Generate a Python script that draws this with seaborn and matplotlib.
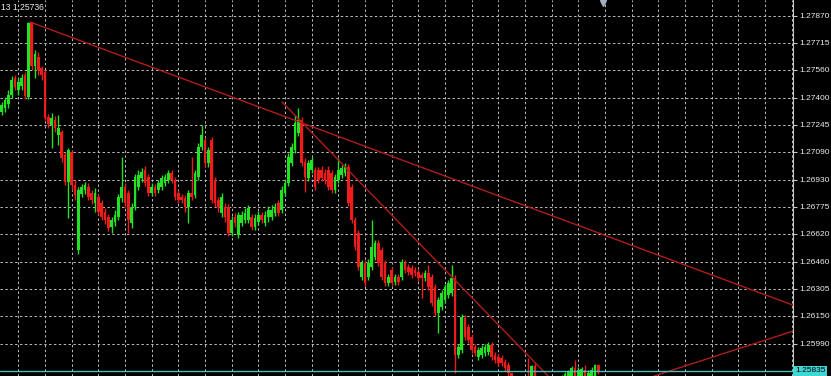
import numpy as np
import pandas as pd
import matplotlib
matplotlib.use("Agg")
import matplotlib.pyplot as plt
import matplotlib.transforms as mtransforms
import seaborn as sns

# ---------------- data ----------------
open_ = [1.27318, 1.27341, 1.27364, 1.27416, 1.27513, 1.27444, 1.27467, 1.27530, 1.27404, 1.27828,
         1.27582, 1.27633, 1.27570, 1.27547, 1.27290, 1.27244, 1.27272, 1.27186, 1.27204, 1.27072,
         1.26917, 1.27089, 1.26900, 1.26528, 1.26848, 1.26871, 1.26888, 1.26854, 1.26797, 1.26831,
         1.26797, 1.26745, 1.26717, 1.26659, 1.26688, 1.26717, 1.26825, 1.26888, 1.26854, 1.26682,
         1.26774, 1.26888, 1.26940, 1.26986, 1.26946, 1.26854, 1.26888, 1.26871, 1.26888, 1.26911,
         1.26929, 1.26969, 1.26929, 1.26854, 1.26831, 1.26825, 1.26774, 1.26854, 1.26843, 1.26946,
         1.27118, 1.27158, 1.27026, 1.27158, 1.26929, 1.26814, 1.26740, 1.26774, 1.26774, 1.26625,
         1.26717, 1.26613, 1.26682, 1.26699, 1.26699, 1.26717, 1.26659, 1.26688, 1.26728, 1.26682,
         1.26717, 1.26717, 1.26740, 1.26797, 1.26757, 1.26854, 1.26911, 1.27026, 1.27100, 1.27198,
         1.27272, 1.27032, 1.26940, 1.26986, 1.26986, 1.26986, 1.26986, 1.26969, 1.26986, 1.26969,
         1.26871, 1.26929, 1.26957, 1.26969, 1.27003, 1.26888, 1.26699, 1.26625, 1.26373, 1.26453,
         1.26373, 1.26430, 1.26487, 1.26568, 1.26528, 1.26453, 1.26338, 1.26413, 1.26344, 1.26373,
         1.26373, 1.26453, 1.26430, 1.26424, 1.26413, 1.26401, 1.26384, 1.26367, 1.26396, 1.26373,
         1.26315, 1.26167, 1.26201, 1.26241, 1.26270, 1.26281, 1.26367, 1.25926, 1.25955, 1.26138,
         1.26086, 1.26029, 1.25972, 1.25914, 1.25926, 1.25937, 1.25943, 1.25983, 1.25926, 1.25914,
         1.25909, 1.25886, 1.25869, 1.25823, 1.25783, 1.25737, 1.25771, 1.25725, 1.25783, 1.25714,
         1.25863, 1.25725, 1.25691, 1.25725, 1.25754, 1.25714, 1.25760, 1.25783, 1.25748, 1.25794,
         1.25806, 1.25794, 1.25851, 1.25794, 1.25806, 1.25840, 1.25794, 1.25806, 1.25806, 1.25869]

high = [1.27376, 1.27404, 1.27444, 1.27525, 1.27530, 1.27513, 1.27536, 1.27547, 1.27834, 1.27834,
        1.27674, 1.27662, 1.27582, 1.27559, 1.27307, 1.27313, 1.27295, 1.27301, 1.27215, 1.27089,
        1.27112, 1.27100, 1.26929, 1.26888, 1.26906, 1.26917, 1.26911, 1.26871, 1.26883, 1.26848,
        1.26814, 1.26768, 1.26734, 1.26717, 1.26757, 1.26848, 1.27060, 1.26911, 1.26871, 1.26797,
        1.26963, 1.26986, 1.26997, 1.27009, 1.26963, 1.26911, 1.26906, 1.26929, 1.26957, 1.26963,
        1.26986, 1.26986, 1.26946, 1.26871, 1.26848, 1.26843, 1.26871, 1.27060, 1.26986, 1.27141,
        1.27244, 1.27175, 1.27118, 1.27175, 1.26946, 1.26831, 1.26854, 1.26797, 1.26791, 1.26722,
        1.26740, 1.26745, 1.26751, 1.26768, 1.26785, 1.26734, 1.26734, 1.26751, 1.26745, 1.26751,
        1.26780, 1.26785, 1.26797, 1.26814, 1.26894, 1.26929, 1.27083, 1.27141, 1.27301, 1.27341,
        1.27290, 1.27055, 1.27043, 1.27060, 1.27003, 1.27003, 1.27009, 1.26992, 1.27009, 1.26986,
        1.26963, 1.27055, 1.27015, 1.27026, 1.27020, 1.26906, 1.26717, 1.26642, 1.26470, 1.26470,
        1.26476, 1.26699, 1.26585, 1.26585, 1.26545, 1.26470, 1.26390, 1.26430, 1.26390, 1.26390,
        1.26476, 1.26470, 1.26447, 1.26442, 1.26430, 1.26419, 1.26401, 1.26413, 1.26442, 1.26390,
        1.26333, 1.26258, 1.26298, 1.26333, 1.26356, 1.26442, 1.26384, 1.25989, 1.26161, 1.26155,
        1.26103, 1.26046, 1.25989, 1.25972, 1.25983, 1.25989, 1.26000, 1.26000, 1.25943, 1.25932,
        1.25926, 1.25903, 1.25886, 1.25817, 1.25794, 1.25788, 1.25783, 1.25783, 1.25909, 1.25869,
        1.25886, 1.25748, 1.25742, 1.25777, 1.25771, 1.25783, 1.25800, 1.25806, 1.25811, 1.25828,
        1.25840, 1.25863, 1.25897, 1.25857, 1.25857, 1.25869, 1.25840, 1.25857, 1.25874, 1.25874]

low = [1.27301, 1.27318, 1.27341, 1.27398, 1.27444, 1.27416, 1.27444, 1.27393, 1.27393, 1.27559,
       1.27513, 1.27530, 1.27502, 1.27272, 1.27227, 1.27112, 1.27204, 1.27129, 1.27032, 1.26900,
       1.26711, 1.26871, 1.26814, 1.26505, 1.26831, 1.26848, 1.26814, 1.26791, 1.26745, 1.26728,
       1.26699, 1.26676, 1.26636, 1.26625, 1.26665, 1.26699, 1.26803, 1.26774, 1.26625, 1.26654,
       1.26757, 1.26871, 1.26917, 1.26894, 1.26837, 1.26837, 1.26837, 1.26854, 1.26871, 1.26894,
       1.26911, 1.26911, 1.26814, 1.26797, 1.26797, 1.26745, 1.26682, 1.26814, 1.26825, 1.26929,
       1.27100, 1.27003, 1.27003, 1.26797, 1.26774, 1.26745, 1.26717, 1.26688, 1.26608, 1.26608,
       1.26659, 1.26596, 1.26665, 1.26682, 1.26682, 1.26642, 1.26642, 1.26671, 1.26682, 1.26665,
       1.26688, 1.26699, 1.26722, 1.26722, 1.26740, 1.26837, 1.26894, 1.27009, 1.27083, 1.27181,
       1.27009, 1.26860, 1.26923, 1.26969, 1.26871, 1.26911, 1.26923, 1.26906, 1.26871, 1.26854,
       1.26854, 1.26911, 1.26940, 1.26952, 1.26780, 1.26682, 1.26528, 1.26413, 1.26356, 1.26321,
       1.26356, 1.26413, 1.26470, 1.26436, 1.26356, 1.26321, 1.26321, 1.26321, 1.26327, 1.26327,
       1.26356, 1.26396, 1.26384, 1.26367, 1.26379, 1.26350, 1.26253, 1.26350, 1.26298, 1.26207,
       1.26149, 1.26052, 1.26184, 1.26224, 1.26253, 1.26264, 1.25823, 1.25909, 1.25937, 1.26012,
       1.25995, 1.25937, 1.25920, 1.25897, 1.25909, 1.25920, 1.25926, 1.25897, 1.25880, 1.25863,
       1.25863, 1.25834, 1.25806, 1.25760, 1.25714, 1.25714, 1.25697, 1.25702, 1.25697, 1.25691,
       1.25702, 1.25668, 1.25668, 1.25702, 1.25691, 1.25697, 1.25737, 1.25725, 1.25725, 1.25771,
       1.25783, 1.25771, 1.25771, 1.25777, 1.25783, 1.25771, 1.25771, 1.25783, 1.25783, 1.25817]

close = [1.27358, 1.27387, 1.27416, 1.27502, 1.27461, 1.27490, 1.27513, 1.27410, 1.27828, 1.27582,
         1.27651, 1.27559, 1.27530, 1.27284, 1.27249, 1.27284, 1.27227, 1.27227, 1.27055, 1.26917,
         1.27100, 1.26900, 1.26843, 1.26871, 1.26888, 1.26900, 1.26831, 1.26814, 1.26854, 1.26745,
         1.26717, 1.26699, 1.26654, 1.26699, 1.26728, 1.26831, 1.26888, 1.26797, 1.26699, 1.26774,
         1.26946, 1.26957, 1.26974, 1.26911, 1.26854, 1.26888, 1.26854, 1.26911, 1.26940, 1.26946,
         1.26969, 1.26929, 1.26831, 1.26814, 1.26814, 1.26774, 1.26854, 1.26831, 1.26969, 1.27118,
         1.27186, 1.27026, 1.27100, 1.26814, 1.26797, 1.26774, 1.26831, 1.26717, 1.26625, 1.26699,
         1.26682, 1.26728, 1.26728, 1.26740, 1.26768, 1.26659, 1.26711, 1.26728, 1.26699, 1.26728,
         1.26757, 1.26757, 1.26774, 1.26740, 1.26871, 1.26911, 1.27060, 1.27118, 1.27255, 1.27272,
         1.27026, 1.26946, 1.27026, 1.27043, 1.26888, 1.26929, 1.26940, 1.26929, 1.26888, 1.26871,
         1.26946, 1.26986, 1.26997, 1.27003, 1.26797, 1.26699, 1.26545, 1.26430, 1.26453, 1.26338,
         1.26453, 1.26545, 1.26568, 1.26453, 1.26373, 1.26338, 1.26373, 1.26338, 1.26373, 1.26344,
         1.26459, 1.26413, 1.26401, 1.26384, 1.26396, 1.26367, 1.26367, 1.26396, 1.26315, 1.26224,
         1.26167, 1.26241, 1.26281, 1.26315, 1.26338, 1.26367, 1.25926, 1.25972, 1.26144, 1.26029,
         1.26012, 1.25955, 1.25937, 1.25955, 1.25966, 1.25972, 1.25983, 1.25914, 1.25897, 1.25880,
         1.25880, 1.25851, 1.25823, 1.25783, 1.25737, 1.25771, 1.25725, 1.25760, 1.25714, 1.25863,
         1.25725, 1.25691, 1.25725, 1.25754, 1.25714, 1.25760, 1.25783, 1.25748, 1.25794, 1.25817,
         1.25828, 1.25851, 1.25794, 1.25840, 1.25846, 1.25794, 1.25823, 1.25840, 1.25869, 1.25835]

price_ticks = [1.27870, 1.27715, 1.27560, 1.27400, 1.27245, 1.27090, 1.26930,
               1.26775, 1.26620, 1.26460, 1.26305, 1.26150, 1.25990]
last_price = 1.25835
info_text = "13 1.25736"

# trend lines drawn on the chart (bar position, price)
trend_a_bar = [8.5, 237.4]
trend_a_price = [1.27834, 1.26212]
trend_b_bar = [84.1, 163.9]
trend_b_price = [1.27376, 1.25806]
trend_c_bar = [195.7, 237.4]
trend_c_price = [1.25806, 1.26063]

# ---------------- styling ----------------
BG = "#000000"
BULL = "#22e322"
BEAR = "#f01c1c"
GRID = "#bcbcbc"
TREND = "#b01c1c"
TEXT = "#ececec"

sns.set_theme(style="dark", rc={"axes.facecolor": BG, "figure.facecolor": BG})
plt.rcParams['font.family'] = ['Liberation Sans', 'DejaVu Sans']

df = pd.DataFrame({"open": open_, "high": high, "low": low, "close": close})
df["bar"] = np.arange(len(df))
df["up"] = df["close"] >= df["open"]
df["body_low"] = df[["open", "close"]].min(axis=1)
df["body_h"] = (df["close"] - df["open"]).abs().clip(lower=0.00003)
colors = np.where(df["up"], BULL, BEAR)

W, H = 831, 376
fig = plt.figure(figsize=(W / 100, H / 100), dpi=100, facecolor=BG)
ax = fig.add_axes([0, 0, 793 / W, 1])
ax.set_facecolor(BG)

# grid
ax.set_xticks(np.arange(5, 238, 8))
ax.set_yticks(price_ticks)
ax.grid(True, color=GRID, linestyle=(0, (2.5, 2.5)), linewidth=0.7, zorder=0)
ax.set_axisbelow(True)

# candles
ax.vlines(df["bar"], df["low"], df["high"], colors=colors, linewidth=1.0, zorder=2)
ax.bar(df["bar"], df["body_h"], bottom=df["body_low"], width=0.8,
       color=colors, linewidth=0, zorder=3)

# trend lines
for bx, py in [(trend_a_bar, trend_a_price), (trend_b_bar, trend_b_price),
               (trend_c_bar, trend_c_price)]:
    sns.lineplot(x=bx, y=py, ax=ax, color=TREND, linewidth=1.0, zorder=4)

# current price line
ax.axhline(last_price, color="#4fbcbc", linewidth=1.0, zorder=5)

ax.set_xlim(-0.51, 237.4)
ax.set_ylim(1.25806, 1.27960)

# axes styling
for s in ["left", "top", "bottom"]:
    ax.spines[s].set_visible(False)
ax.spines["right"].set_visible(True)
ax.spines["right"].set_color("#c8c8c8")
ax.spines["right"].set_linewidth(0.8)
ax.yaxis.tick_right()
ax.set_yticklabels([f"{v:.5f}" for v in price_ticks])
ax.tick_params(axis="y", which="both", right=True, left=False, colors="#c8c8c8",
               labelcolor=TEXT, length=3, width=0.8, labelsize=6, pad=1.5)
ax.tick_params(axis="x", length=0, labelbottom=False)
ax.set_xlabel("")
ax.set_ylabel("")

# current price box
ax.annotate(f"{last_price:.5f}", xy=(1, last_price),
            xycoords=("axes fraction", "data"), xytext=(1.5, 0),
            textcoords="offset points", va="center", ha="left", fontsize=6,
            color="#000000", annotation_clip=False,
            bbox=dict(boxstyle="square,pad=0.2", fc="#3fd6d6", ec="none"))

# info text at top left
fig.text(1 / W, 1 - 8 / H, info_text, color=TEXT, fontsize=6.2, va="center", ha="left")

# chart shift marker at top
trans = mtransforms.blended_transform_factory(ax.transData, ax.transAxes)
ax.plot([180.4], [0.993], marker="v", ms=5, color="#9fb0c2", transform=trans,
        clip_on=False, zorder=6, linestyle="none")

fig.savefig("out.png", dpi=100, facecolor=BG)
